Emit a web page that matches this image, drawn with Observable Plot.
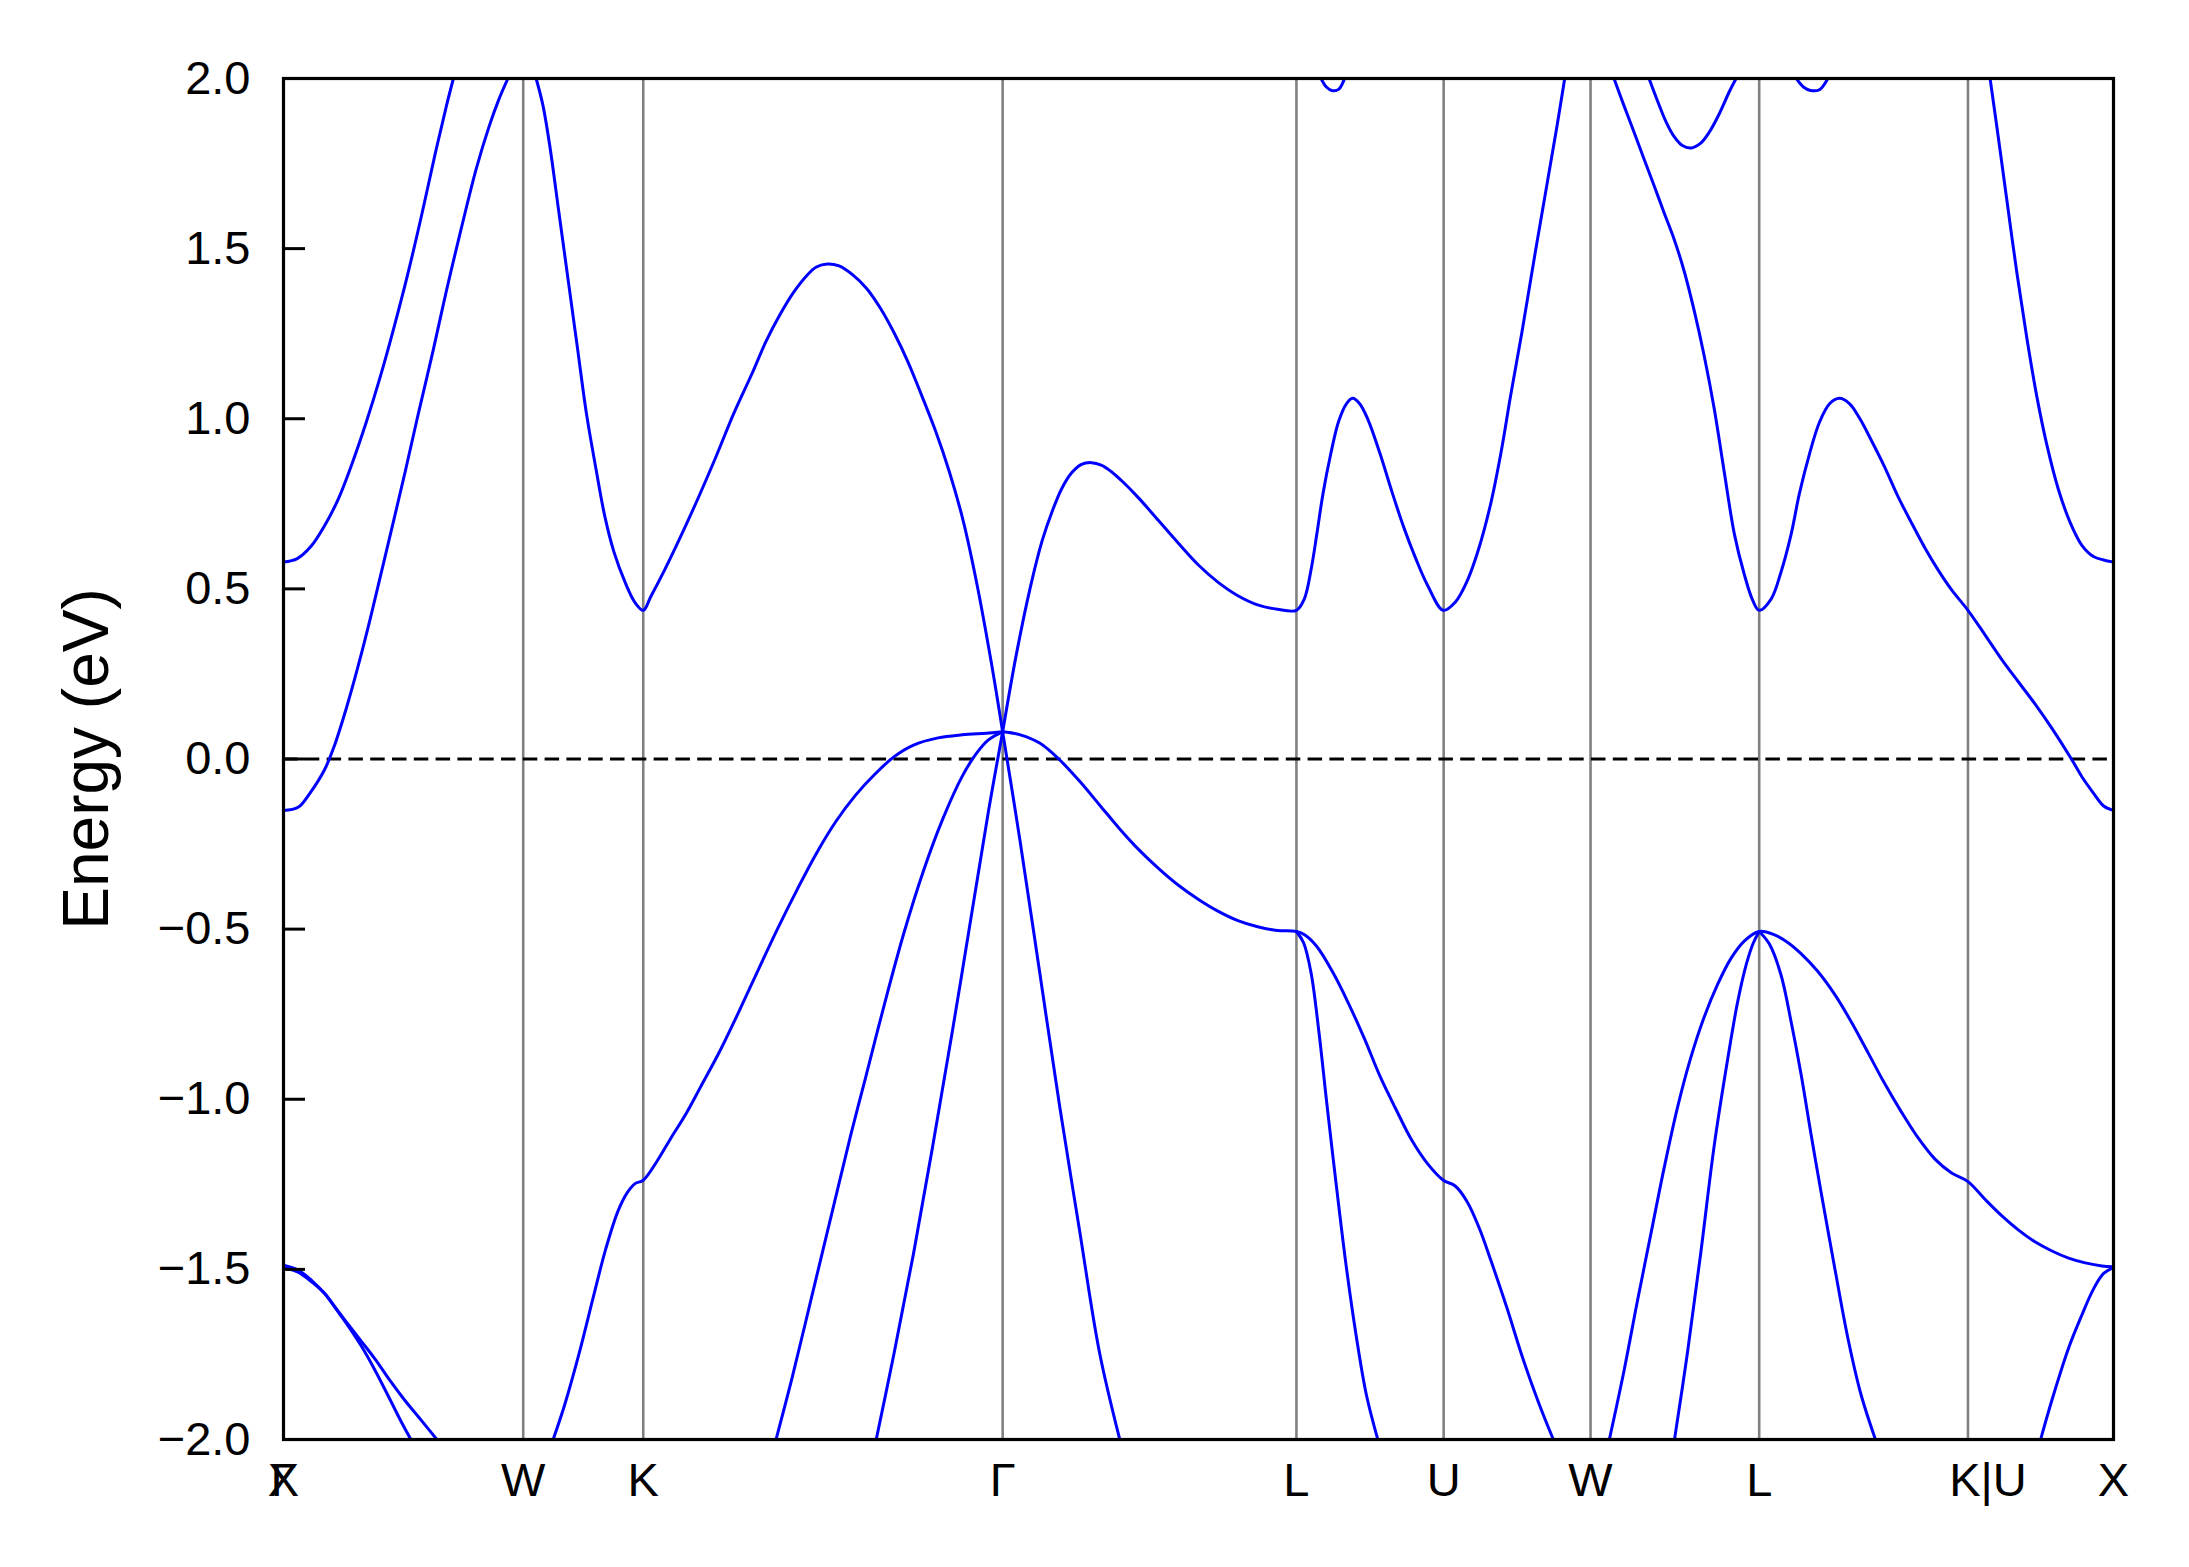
<!DOCTYPE html>
<html>
<head>
<meta charset="utf-8">
<script src="https://cdn.jsdelivr.net/npm/d3@7"></script>
<script src="https://cdn.jsdelivr.net/npm/@observablehq/plot@0.6"></script>
<style>
  html, body { margin: 0; padding: 0; background: #ffffff; }
  #chart svg { display: block; }
</style>
</head>
<body>
<div id="chart"></div>
<script>
// ---- k-path ticks (k distance along the path) ----
const kTicks  = [0, 0, 0.705, 1.058, 2.115, 2.979, 3.412, 3.844, 4.340, 4.954, 5.382];
const kLabels = ["X", "Γ", "W", "K", "Γ", "L", "U", "W", "L", "K|U", "X"];
const eTicks  = [-2.0, -1.5, -1.0, -0.5, 0.0, 0.5, 1.0, 1.5, 2.0];

// ---- bands: [k, energy (eV)] ----
const bandXc1 = [[0,0.579],[0.0405,0.589],[0.081,0.625],[0.1216,0.687],[0.162,0.766],[0.2026,0.871],[0.2431,0.989],[0.2836,1.120],[0.324,1.265],[0.3647,1.422],[0.405,1.593],[0.4457,1.777],[0.4795,1.921],[0.4997,2.0]];
const bandXc2 = [[0,-0.151],[0.043,-0.142],[0.078,-0.100],[0.121,-0.031],[0.150,0.040],[0.185,0.150],[0.22,0.275],[0.257,0.420],[0.30,0.60],[0.358,0.845],[0.40,1.03],[0.44,1.20],[0.48,1.38],[0.523,1.56],[0.567,1.735],[0.605,1.86],[0.632,1.935],[0.66,2.0]];
const bandWKG = [[0.743,2.0],[0.763,1.921],[0.783,1.803],[0.810,1.606],[0.837,1.409],[0.864,1.212],[0.891,1.015],[0.918,0.858],[0.945,0.713],[0.972,0.608],[1.006,0.516],[1.033,0.461],[1.058,0.437],[1.080,0.477],[1.121,0.556],[1.162,0.641],[1.216,0.759],[1.270,0.884],[1.324,1.015],[1.378,1.133],[1.418,1.225],[1.459,1.304],[1.499,1.370],[1.540,1.422],[1.567,1.446],[1.600,1.455],[1.634,1.449],[1.675,1.422],[1.715,1.383],[1.756,1.324],[1.796,1.252],[1.837,1.166],[1.877,1.068],[1.918,0.963],[1.958,0.845],[1.999,0.700],[2.039,0.516],[2.080,0.293],[2.115,0.08]];
const bandWKGv = [[0.791,-2.006],[0.827,-1.898],[0.870,-1.745],[0.912,-1.578],[0.948,-1.439],[0.984,-1.328],[1.012,-1.273],[1.034,-1.248],[1.058,-1.238],[1.098,-1.183],[1.140,-1.113],[1.183,-1.044],[1.226,-0.965],[1.283,-0.859],[1.340,-0.741],[1.397,-0.618],[1.454,-0.497],[1.511,-0.383],[1.568,-0.276],[1.625,-0.183],[1.682,-0.107],[1.739,-0.045],[1.796,0.007],[1.853,0.041],[1.925,0.062],[1.996,0.071],[2.067,0.076],[2.115,0.08]];
const bandKGa = [[1.447,-2.006],[1.497,-1.814],[1.554,-1.578],[1.611,-1.342],[1.668,-1.106],[1.711,-0.940],[1.768,-0.718],[1.825,-0.510],[1.882,-0.329],[1.939,-0.176],[1.996,-0.051],[2.039,0.018],[2.074,0.057],[2.115,0.08]];
const bandKGb = [[1.742,-2.006],[1.796,-1.745],[1.853,-1.453],[1.910,-1.134],[1.967,-0.801],[2.024,-0.454],[2.074,-0.149],[2.115,0.08]];
const bandGLc = [[2.115,0.08],[2.155,0.306],[2.196,0.503],[2.231,0.641],[2.260,0.726],[2.289,0.795],[2.318,0.841],[2.347,0.866],[2.376,0.871],[2.405,0.864],[2.434,0.845],[2.469,0.814],[2.516,0.766],[2.574,0.700],[2.632,0.634],[2.690,0.571],[2.748,0.520],[2.807,0.480],[2.865,0.453],[2.923,0.440],[2.979,0.437],[3.002,0.470],[3.022,0.556],[3.039,0.661],[3.057,0.779],[3.080,0.897],[3.103,0.992],[3.126,1.044],[3.144,1.060],[3.165,1.044],[3.190,0.996],[3.225,0.897],[3.260,0.785],[3.295,0.680],[3.330,0.589],[3.365,0.510],[3.411,0.437],[3.446,0.461],[3.481,0.523],[3.516,0.621],[3.551,0.753],[3.580,0.897],[3.609,1.068],[3.644,1.265],[3.679,1.475],[3.714,1.678],[3.745,1.858],[3.768,2.0]];
const bandGLv = [[2.115,0.08],[2.167,0.071],[2.225,0.046],[2.283,-0.003],[2.341,-0.065],[2.400,-0.135],[2.458,-0.204],[2.516,-0.267],[2.574,-0.322],[2.632,-0.371],[2.690,-0.412],[2.748,-0.447],[2.807,-0.475],[2.865,-0.493],[2.923,-0.504],[2.979,-0.507],[3.004,-0.517],[3.039,-0.551],[3.086,-0.627],[3.132,-0.718],[3.179,-0.822],[3.225,-0.933],[3.272,-1.030],[3.318,-1.120],[3.365,-1.190],[3.411,-1.238],[3.446,-1.255],[3.481,-1.301],[3.516,-1.377],[3.551,-1.474],[3.598,-1.613],[3.644,-1.759],[3.691,-1.891],[3.737,-2.006]];
const bandGLs = [[2.115,0.08],[2.167,-0.246],[2.225,-0.634],[2.283,-1.023],[2.341,-1.384],[2.400,-1.745],[2.461,-2.006]];
const bandLUs = [[2.979,-0.507],[3.000,-0.540],[3.022,-0.628],[3.045,-0.801],[3.068,-1.009],[3.097,-1.259],[3.126,-1.495],[3.156,-1.703],[3.185,-1.870],[3.220,-2.006]];
const bandLUd = [[3.045,2.01],[3.051,2.0],[3.067,1.975],[3.083,1.965],[3.103,1.968],[3.121,2.0],[3.126,2.01]];
const bandWLc = [[3.913,2.0],[3.942,1.921],[3.972,1.842],[4.001,1.764],[4.031,1.685],[4.060,1.606],[4.090,1.527],[4.119,1.435],[4.149,1.317],[4.178,1.186],[4.208,1.028],[4.237,0.845],[4.267,0.661],[4.296,0.543],[4.321,0.466],[4.340,0.437],[4.375,0.470],[4.404,0.549],[4.434,0.661],[4.458,0.779],[4.488,0.897],[4.517,0.989],[4.547,1.044],[4.576,1.060],[4.606,1.044],[4.635,1.002],[4.670,0.936],[4.709,0.858],[4.748,0.772],[4.788,0.694],[4.827,0.621],[4.866,0.556],[4.906,0.497],[4.954,0.437],[5.004,0.365],[5.053,0.293],[5.102,0.227],[5.151,0.162],[5.201,0.090],[5.260,-0.003],[5.289,-0.052],[5.323,-0.100],[5.353,-0.138],[5.382,-0.151]];
const bandWLp = [[4.016,2.0],[4.041,1.934],[4.065,1.875],[4.090,1.829],[4.114,1.803],[4.141,1.796],[4.168,1.810],[4.193,1.842],[4.222,1.895],[4.252,1.961],[4.272,2.0]];
const bandLKd = [[4.443,2.01],[4.449,2.0],[4.470,1.975],[4.491,1.965],[4.517,1.967],[4.542,2.0],[4.547,2.01]];
const bandUXc = [[5.019,2.0],[5.043,1.829],[5.068,1.645],[5.097,1.435],[5.127,1.238],[5.156,1.068],[5.186,0.923],[5.220,0.792],[5.255,0.694],[5.289,0.628],[5.323,0.595],[5.353,0.585],[5.382,0.579]];
const bandWLv1 = [[3.898,-2.006],[3.942,-1.800],[3.982,-1.592],[4.021,-1.398],[4.060,-1.204],[4.100,-1.023],[4.139,-0.877],[4.178,-0.759],[4.218,-0.662],[4.257,-0.586],[4.296,-0.535],[4.340,-0.507],[4.385,-0.517],[4.424,-0.539],[4.463,-0.572],[4.512,-0.624],[4.562,-0.692],[4.611,-0.773],[4.660,-0.863],[4.709,-0.954],[4.758,-1.037],[4.807,-1.113],[4.857,-1.176],[4.906,-1.217],[4.954,-1.242],[5.004,-1.294],[5.053,-1.342],[5.102,-1.384],[5.151,-1.419],[5.201,-1.446],[5.250,-1.467],[5.299,-1.481],[5.348,-1.490],[5.382,-1.492]];
const bandWLv2 = [[4.090,-2.006],[4.129,-1.745],[4.168,-1.453],[4.208,-1.134],[4.247,-0.884],[4.277,-0.712],[4.303,-0.600],[4.323,-0.540],[4.340,-0.507]];
const bandLKs = [[4.340,-0.507],[4.370,-0.544],[4.404,-0.634],[4.434,-0.773],[4.463,-0.926],[4.493,-1.106],[4.522,-1.273],[4.562,-1.495],[4.601,-1.703],[4.640,-1.870],[4.684,-2.006]];
const bandUXv = [[5.166,-2.006],[5.201,-1.884],[5.250,-1.731],[5.289,-1.634],[5.323,-1.558],[5.353,-1.512],[5.382,-1.495]];
const bandXv1 = [[0,-1.488],[0.043,-1.502],[0.0855,-1.535],[0.121,-1.571],[0.157,-1.620],[0.192,-1.669],[0.228,-1.724],[0.271,-1.800],[0.314,-1.884],[0.349,-1.953],[0.378,-2.006]];
const bandXv2 = [[0,-1.495],[0.043,-1.508],[0.0855,-1.539],[0.121,-1.571],[0.157,-1.618],[0.192,-1.664],[0.228,-1.710],[0.271,-1.766],[0.314,-1.828],[0.356,-1.884],[0.399,-1.936],[0.456,-2.006]];

const bands = [bandXc1, bandXc2, bandWKG, bandWKGv, bandKGa, bandKGb, bandGLc, bandGLv, bandGLs,
  bandLUs, bandLUd, bandWLc, bandWLp, bandLKd, bandUXc, bandWLv1, bandWLv2, bandLKs, bandUXv, bandXv1, bandXv2];
const bandRows = bands.flatMap((b, i) => b.map(([k, e]) => ({band: i, k, e})));

const xLabelRows = kTicks.map((k, i) => ({k, label: kLabels[i]}));
const fmt = d => d.toFixed(1).replace("-", "\u2212");

const W = 2189, H = 1567, mL = 283, mR = 76, mT = 78, mB = 128;
const plotW = W - mL - mR;

const chart = Plot.plot({
  width: W, height: H,
  marginLeft: mL, marginRight: mR, marginTop: mT, marginBottom: mB,
  x: {domain: [0, kTicks[kTicks.length - 1]], axis: null},
  y: {domain: [-2, 2], axis: null},
  style: {background: "#ffffff", fontFamily: "'Liberation Sans', Arial, Helvetica, sans-serif", color: "#000000"},
  marks: [
    Plot.ruleX(kTicks, {x: d => d, stroke: "#808080", strokeWidth: 2.6}),
    Plot.ruleY([0], {y: d => d, stroke: "#000000", strokeWidth: 2.8, strokeDasharray: "14.5,7.3"}),
    Plot.line(bandRows, {x: "k", y: "e", z: "band", curve: "catmull-rom", stroke: "#0000ff", strokeWidth: 3, clip: true, strokeLinejoin: "round"}),
    Plot.frame({stroke: "#000000", strokeWidth: 3.2}),
    Plot.tickY(eTicks, {y: d => d, stroke: "#000000", strokeWidth: 3, insetRight: plotW - 22}),
    Plot.text(eTicks, {y: d => d, text: fmt, frameAnchor: "left", textAnchor: "end", dx: -33, fontSize: 47, fill: "#000000"}),
    Plot.text(xLabelRows.filter(d => d.label !== "K|U"), {x: "k", text: "label", frameAnchor: "bottom", textAnchor: "middle", lineAnchor: "top", dy: 23, fontSize: 47, fill: "#000000"}),
    Plot.text(xLabelRows.filter(d => d.label === "K|U"), {x: "k", text: "label", frameAnchor: "bottom", textAnchor: "middle", lineAnchor: "top", dy: 23, dx: 20, fontSize: 47, fill: "#000000"}),
    Plot.text(["Energy (eV)"], {text: d => d, frameAnchor: "left", textAnchor: "middle", rotate: -90, dx: -196, fontSize: 64, fill: "#000000"})
  ]
});
document.getElementById("chart").appendChild(chart);
</script>
</body>
</html>
